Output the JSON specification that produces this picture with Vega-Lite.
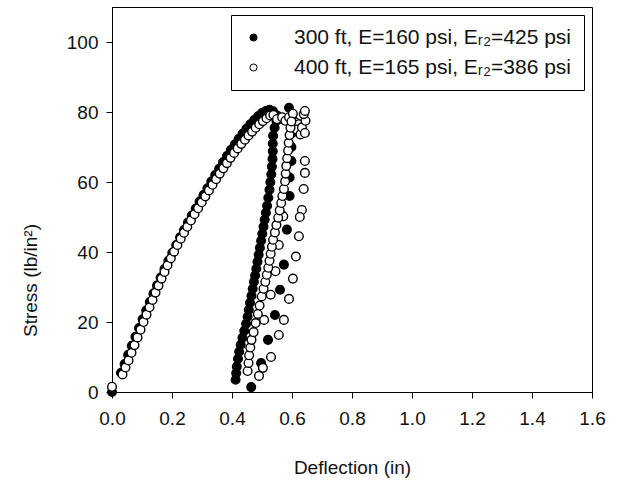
{
  "$schema": "https://vega.github.io/schema/vega-lite/v6.json",
  "width": 480,
  "height": 385,
  "autosize": "none",
  "padding": {"left": 112, "top": 7, "right": 31, "bottom": 92},
  "background": "white",
  "config": {
    "view": {"stroke": "black", "strokeWidth": 1},
    "font": "Liberation Sans",
    "axis": {
      "domainColor": "black", "tickColor": "black", "grid": false,
      "labelColor": "#111", "titleColor": "#111",
      "labelFont": "Liberation Sans", "titleFont": "Liberation Sans",
      "labelFontSize": 19, "titleFontSize": 19, "titleFontWeight": "normal",
      "tickSize": 6
    }
  },
  "data": {
    "values": [
      {"s": "F", "x": 0.0, "y": 0.0},
      {"s": "F", "x": 0.03, "y": 5.5},
      {"s": "F", "x": 0.042, "y": 8.0},
      {"s": "F", "x": 0.054, "y": 10.6},
      {"s": "F", "x": 0.066, "y": 13.2},
      {"s": "F", "x": 0.078, "y": 15.8},
      {"s": "F", "x": 0.09, "y": 18.3},
      {"s": "F", "x": 0.102, "y": 20.8},
      {"s": "F", "x": 0.114, "y": 23.3},
      {"s": "F", "x": 0.126, "y": 25.7},
      {"s": "F", "x": 0.138, "y": 28.1},
      {"s": "F", "x": 0.15, "y": 30.4},
      {"s": "F", "x": 0.162, "y": 32.7},
      {"s": "F", "x": 0.175, "y": 35.1},
      {"s": "F", "x": 0.188, "y": 37.5},
      {"s": "F", "x": 0.201, "y": 39.8},
      {"s": "F", "x": 0.214, "y": 42.0},
      {"s": "F", "x": 0.227, "y": 44.2},
      {"s": "F", "x": 0.24, "y": 46.3},
      {"s": "F", "x": 0.253, "y": 48.4},
      {"s": "F", "x": 0.266, "y": 50.4},
      {"s": "F", "x": 0.279, "y": 52.4},
      {"s": "F", "x": 0.292, "y": 54.4},
      {"s": "F", "x": 0.305, "y": 56.3},
      {"s": "F", "x": 0.318, "y": 58.2},
      {"s": "F", "x": 0.331, "y": 60.1},
      {"s": "F", "x": 0.344, "y": 62.0},
      {"s": "F", "x": 0.357, "y": 63.8},
      {"s": "F", "x": 0.37, "y": 65.6},
      {"s": "F", "x": 0.383, "y": 67.4},
      {"s": "F", "x": 0.396, "y": 69.1},
      {"s": "F", "x": 0.409, "y": 70.7},
      {"s": "F", "x": 0.422, "y": 72.3},
      {"s": "F", "x": 0.435, "y": 73.8},
      {"s": "F", "x": 0.448, "y": 75.2},
      {"s": "F", "x": 0.461, "y": 76.5},
      {"s": "F", "x": 0.474, "y": 77.7},
      {"s": "F", "x": 0.487, "y": 78.8},
      {"s": "F", "x": 0.5, "y": 79.7},
      {"s": "F", "x": 0.513, "y": 80.3},
      {"s": "F", "x": 0.525, "y": 80.6},
      {"s": "F", "x": 0.537, "y": 80.2},
      {"s": "F", "x": 0.55, "y": 79.0},
      {"s": "F", "x": 0.565, "y": 78.0},
      {"s": "F", "x": 0.59, "y": 81.2},
      {"s": "F", "x": 0.6, "y": 78.5},
      {"s": "F", "x": 0.6, "y": 74.0},
      {"s": "F", "x": 0.598, "y": 70.0},
      {"s": "F", "x": 0.598, "y": 66.0},
      {"s": "F", "x": 0.592, "y": 61.3},
      {"s": "F", "x": 0.592, "y": 56.0},
      {"s": "F", "x": 0.412, "y": 3.5},
      {"s": "F", "x": 0.414, "y": 5.4},
      {"s": "F", "x": 0.416, "y": 7.3},
      {"s": "F", "x": 0.42, "y": 9.5},
      {"s": "F", "x": 0.424, "y": 11.5},
      {"s": "F", "x": 0.429, "y": 13.5},
      {"s": "F", "x": 0.435, "y": 15.5},
      {"s": "F", "x": 0.441, "y": 17.5},
      {"s": "F", "x": 0.447, "y": 19.5},
      {"s": "F", "x": 0.452, "y": 21.5},
      {"s": "F", "x": 0.456, "y": 23.5},
      {"s": "F", "x": 0.46, "y": 25.5},
      {"s": "F", "x": 0.465, "y": 27.5},
      {"s": "F", "x": 0.469, "y": 29.5},
      {"s": "F", "x": 0.473, "y": 31.5},
      {"s": "F", "x": 0.477, "y": 33.3},
      {"s": "F", "x": 0.481, "y": 35.2},
      {"s": "F", "x": 0.485, "y": 37.2},
      {"s": "F", "x": 0.489, "y": 39.2},
      {"s": "F", "x": 0.493, "y": 41.2},
      {"s": "F", "x": 0.497, "y": 43.2},
      {"s": "F", "x": 0.501, "y": 45.2},
      {"s": "F", "x": 0.505, "y": 47.2},
      {"s": "F", "x": 0.509, "y": 49.2},
      {"s": "F", "x": 0.513, "y": 51.2},
      {"s": "F", "x": 0.517, "y": 53.2},
      {"s": "F", "x": 0.521, "y": 55.5},
      {"s": "F", "x": 0.525, "y": 57.8},
      {"s": "F", "x": 0.528, "y": 60.0},
      {"s": "F", "x": 0.531, "y": 62.2},
      {"s": "F", "x": 0.533, "y": 64.4},
      {"s": "F", "x": 0.535, "y": 66.6},
      {"s": "F", "x": 0.536, "y": 68.8},
      {"s": "F", "x": 0.536, "y": 71.0},
      {"s": "F", "x": 0.537, "y": 73.2},
      {"s": "F", "x": 0.542, "y": 75.5},
      {"s": "F", "x": 0.548, "y": 77.5},
      {"s": "F", "x": 0.583, "y": 46.4},
      {"s": "F", "x": 0.573, "y": 36.4},
      {"s": "F", "x": 0.56, "y": 29.2},
      {"s": "F", "x": 0.543, "y": 22.0},
      {"s": "F", "x": 0.52, "y": 14.9},
      {"s": "F", "x": 0.497, "y": 8.3},
      {"s": "F", "x": 0.464, "y": 1.4},
      {"s": "O", "x": 0.0, "y": 1.5},
      {"s": "O", "x": 0.035, "y": 5.0},
      {"s": "O", "x": 0.045, "y": 7.0},
      {"s": "O", "x": 0.055, "y": 9.0},
      {"s": "O", "x": 0.065, "y": 11.2},
      {"s": "O", "x": 0.075, "y": 13.4},
      {"s": "O", "x": 0.085, "y": 15.6},
      {"s": "O", "x": 0.095, "y": 17.8},
      {"s": "O", "x": 0.105, "y": 20.0},
      {"s": "O", "x": 0.115, "y": 22.1},
      {"s": "O", "x": 0.125, "y": 24.2},
      {"s": "O", "x": 0.135, "y": 26.3},
      {"s": "O", "x": 0.145, "y": 28.4},
      {"s": "O", "x": 0.155, "y": 30.4},
      {"s": "O", "x": 0.165, "y": 32.4},
      {"s": "O", "x": 0.175, "y": 34.3},
      {"s": "O", "x": 0.185, "y": 36.2},
      {"s": "O", "x": 0.196, "y": 38.2},
      {"s": "O", "x": 0.207, "y": 40.1},
      {"s": "O", "x": 0.218, "y": 42.0},
      {"s": "O", "x": 0.229, "y": 43.8},
      {"s": "O", "x": 0.24, "y": 45.5},
      {"s": "O", "x": 0.251, "y": 47.2},
      {"s": "O", "x": 0.263, "y": 49.0},
      {"s": "O", "x": 0.275, "y": 50.8},
      {"s": "O", "x": 0.287, "y": 52.5},
      {"s": "O", "x": 0.299, "y": 54.2},
      {"s": "O", "x": 0.311, "y": 55.9},
      {"s": "O", "x": 0.323, "y": 57.6},
      {"s": "O", "x": 0.335, "y": 59.2},
      {"s": "O", "x": 0.347, "y": 60.8},
      {"s": "O", "x": 0.359, "y": 62.4},
      {"s": "O", "x": 0.371, "y": 63.9},
      {"s": "O", "x": 0.383, "y": 65.4},
      {"s": "O", "x": 0.395, "y": 66.9},
      {"s": "O", "x": 0.407, "y": 68.3},
      {"s": "O", "x": 0.419, "y": 69.6},
      {"s": "O", "x": 0.431, "y": 70.9},
      {"s": "O", "x": 0.443, "y": 72.1},
      {"s": "O", "x": 0.455, "y": 73.3},
      {"s": "O", "x": 0.467, "y": 74.4},
      {"s": "O", "x": 0.479, "y": 75.5},
      {"s": "O", "x": 0.491, "y": 76.5},
      {"s": "O", "x": 0.503, "y": 77.4},
      {"s": "O", "x": 0.515, "y": 78.2},
      {"s": "O", "x": 0.527, "y": 79.0},
      {"s": "O", "x": 0.538, "y": 79.2},
      {"s": "O", "x": 0.55, "y": 78.0},
      {"s": "O", "x": 0.567, "y": 78.5},
      {"s": "O", "x": 0.578, "y": 77.5},
      {"s": "O", "x": 0.59, "y": 78.5},
      {"s": "O", "x": 0.603, "y": 79.5},
      {"s": "O", "x": 0.612, "y": 77.0},
      {"s": "O", "x": 0.623, "y": 76.5},
      {"s": "O", "x": 0.616, "y": 75.0},
      {"s": "O", "x": 0.628, "y": 73.6},
      {"s": "O", "x": 0.633, "y": 75.6},
      {"s": "O", "x": 0.645, "y": 77.5},
      {"s": "O", "x": 0.639, "y": 79.4},
      {"s": "O", "x": 0.643, "y": 80.3},
      {"s": "O", "x": 0.643, "y": 74.0},
      {"s": "O", "x": 0.643, "y": 66.0},
      {"s": "O", "x": 0.643, "y": 62.6},
      {"s": "O", "x": 0.639, "y": 58.0},
      {"s": "O", "x": 0.633, "y": 52.0},
      {"s": "O", "x": 0.626, "y": 50.0},
      {"s": "O", "x": 0.623, "y": 44.5},
      {"s": "O", "x": 0.613, "y": 38.7},
      {"s": "O", "x": 0.603, "y": 32.4},
      {"s": "O", "x": 0.59, "y": 26.6},
      {"s": "O", "x": 0.573, "y": 20.6},
      {"s": "O", "x": 0.556, "y": 16.3},
      {"s": "O", "x": 0.53, "y": 10.0},
      {"s": "O", "x": 0.503, "y": 6.9},
      {"s": "O", "x": 0.49, "y": 4.6},
      {"s": "O", "x": 0.571, "y": 50.2},
      {"s": "O", "x": 0.556, "y": 42.0},
      {"s": "O", "x": 0.545, "y": 34.5},
      {"s": "O", "x": 0.529, "y": 27.8},
      {"s": "O", "x": 0.507, "y": 20.6},
      {"s": "O", "x": 0.452, "y": 6.0},
      {"s": "O", "x": 0.455, "y": 8.3},
      {"s": "O", "x": 0.457, "y": 10.5},
      {"s": "O", "x": 0.461, "y": 12.7},
      {"s": "O", "x": 0.465, "y": 14.9},
      {"s": "O", "x": 0.472, "y": 17.1},
      {"s": "O", "x": 0.479, "y": 19.7},
      {"s": "O", "x": 0.486, "y": 22.3},
      {"s": "O", "x": 0.492, "y": 24.7},
      {"s": "O", "x": 0.499, "y": 27.3},
      {"s": "O", "x": 0.505, "y": 29.5},
      {"s": "O", "x": 0.511, "y": 31.5},
      {"s": "O", "x": 0.516, "y": 33.5},
      {"s": "O", "x": 0.521, "y": 35.5},
      {"s": "O", "x": 0.525, "y": 37.5},
      {"s": "O", "x": 0.529, "y": 39.5},
      {"s": "O", "x": 0.533, "y": 41.5},
      {"s": "O", "x": 0.537, "y": 43.5},
      {"s": "O", "x": 0.543, "y": 45.6},
      {"s": "O", "x": 0.548, "y": 47.7},
      {"s": "O", "x": 0.554, "y": 49.8},
      {"s": "O", "x": 0.559, "y": 51.9},
      {"s": "O", "x": 0.564, "y": 54.0},
      {"s": "O", "x": 0.568, "y": 56.0},
      {"s": "O", "x": 0.573, "y": 58.0},
      {"s": "O", "x": 0.577, "y": 60.2},
      {"s": "O", "x": 0.579, "y": 62.4},
      {"s": "O", "x": 0.581, "y": 64.6},
      {"s": "O", "x": 0.584, "y": 66.8},
      {"s": "O", "x": 0.587, "y": 69.0},
      {"s": "O", "x": 0.589, "y": 71.2},
      {"s": "O", "x": 0.592, "y": 73.4},
      {"s": "O", "x": 0.595, "y": 75.5},
      {"s": "O", "x": 0.598, "y": 77.3}
    ]
  },
  "mark": {"type": "point", "shape": "circle", "filled": true, "size": 75, "stroke": "black", "strokeWidth": 1.4, "opacity": 1},
  "encoding": {
    "x": {
      "field": "x", "type": "quantitative",
      "scale": {"domain": [0, 1.6], "nice": false, "zero": false},
      "axis": {"title": "Deflection (in)", "values": [0, 0.2, 0.4, 0.6, 0.8, 1.0, 1.2, 1.4, 1.6], "format": ".1f", "labelPadding": 11, "titlePadding": 30, "labelFlush": false}
    },
    "y": {
      "field": "y", "type": "quantitative",
      "scale": {"domain": [0, 110], "nice": false},
      "axis": {"title": "Stress (lb/in²)", "values": [0, 20, 40, 60, 80, 100], "labelPadding": 8, "titlePadding": 26, "titleY": 273}
    },
    "fill": {
      "field": "s", "type": "nominal",
      "scale": {"domain": ["F", "O"], "range": ["black", "white"]},
      "legend": {
        "title": null, "orient": "top-right", "offset": 8, "padding": 12,
        "strokeColor": "black", "fillColor": "white",
        "labelExpr": "datum.value == 'F' ? '300 ft, E=160 psi, Eᵣ₂=425 psi' : '400 ft, E=165 psi, Eᵣ₂=386 psi'",
        "labelFont": "Liberation Sans", "labelFontSize": 21, "labelColor": "#111", "labelLimit": 500,
        "symbolType": "circle", "symbolSize": 50, "symbolStrokeColor": "black", "symbolStrokeWidth": 1, "symbolOpacity": 1,
        "rowPadding": 8, "labelOffset": 30
      }
    }
  }
}
